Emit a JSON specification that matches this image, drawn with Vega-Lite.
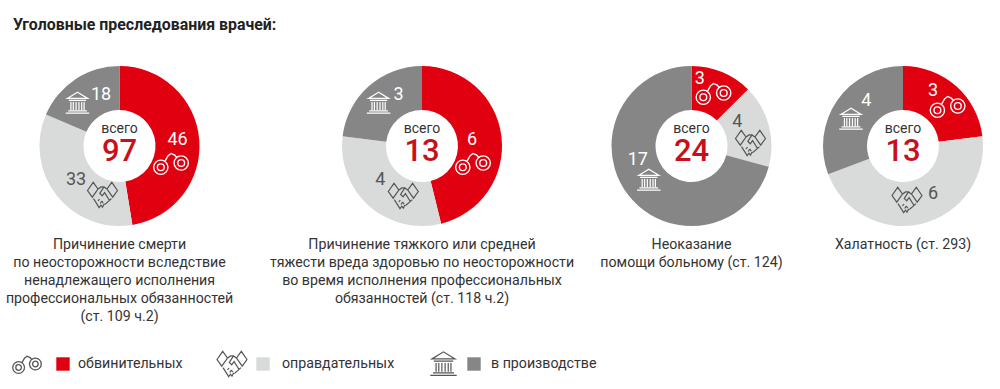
{"$schema":"https://vega.github.io/schema/vega-lite/v6.json","padding":{"left":0,"top":17,"right":0,"bottom":0},"bounds":"flush","background":"white","spacing":290,
"params":[
{"name":"cuffs","value":"M-1.02,.25A.42,.42 0 1 0 -.18,.25A.42,.42 0 1 0 -1.02,.25ZM-.8,.25A.2,.2 0 1 0 -.4,.25A.2,.2 0 1 0 -.8,.25ZM.18,0A.42,.42 0 1 0 1.02,0A.42,.42 0 1 0 .18,0ZM.4,0A.2,.2 0 1 0 .8,0A.2,.2 0 1 0 .4,0ZM-.36,-.1L-.18,-.42L0,-.56L.22,-.46L.36,-.3"},
{"name":"shake","value":"M-1,-.3L-.62,-.84L-.3,-.4L-.68,.14ZM1,-.3L.62,-.84L.3,-.4L.68,.14ZM-.36,-.35L-.1,-.54L.1,-.54L.36,-.35M-.6,.24L-.22,.84L-.1,.68L0,.81L.1,.62L.2,.6L.6,.24M.1,-.54L-.18,-.1L-.02,.05L.14,-.16L.46,.35M-.3,.4L-.2,.27M-.15,.57L-.05,.4M.05,.54L-.05,.4"},
{"name":"bank","value":"M-.85,-.38L0,-.9L.85,-.38ZM-.72,-.22H.72M-.55,-.08V.58M-.35,-.08V.58M-.12,-.08V.58M.12,-.08V.58M.35,-.08V.58M.55,-.08V.58M-.78,.66H.78M-.98,.84H.98"}
],
"title":{"text":"Уголовные преследования врачей:","anchor":"start","frame":"group","dx":13,"offset":23,"font":"Roboto","fontSize":15.9,"fontWeight":"bold","color":"#222"},
"config":{"view":{"stroke":null},"axis":{"disable":true},"font":"Roboto"},
"data":{"values":[
{"case":1,"category":"обвинительных","order":1,"count":46},{"case":1,"category":"оправдательных","order":2,"count":33},{"case":1,"category":"в производстве","order":3,"count":18},
{"case":2,"category":"обвинительных","order":1,"count":6},{"case":2,"category":"оправдательных","order":2,"count":4},{"case":2,"category":"в производстве","order":3,"count":3},
{"case":3,"category":"обвинительных","order":1,"count":3},{"case":3,"category":"оправдательных","order":2,"count":4},{"case":3,"category":"в производстве","order":3,"count":17},
{"case":4,"category":"обвинительных","order":1,"count":3},{"case":4,"category":"оправдательных","order":2,"count":6},{"case":4,"category":"в производстве","order":3,"count":4}
]},
"vconcat":[
{"bounds":"flush","hconcat":[
{"width":239,"height":180,"transform":[{"filter":"datum.case==1"}],
"title":{"text":["Причинение смерти","по неосторожности вследствие","ненадлежащего исполнения","профессиональных обязанностей","(ст. 109 ч.2)"],"orient":"bottom","anchor":"middle","frame":"group","offset":2,"font":"Roboto","fontSize":14.2,"fontWeight":"normal","lineHeight":18,"color":"#333"},
"layer":[
{"mark":{"type":"arc","innerRadius":36,"outerRadius":80},"encoding":{"theta":{"field":"count","type":"quantitative","stack":true},"order":{"field":"order"},"color":{"field":"category","type":"nominal","scale":{"domain":["обвинительных","оправдательных","в производстве"],"range":["#e1000f","#d9dada","#868686"]},"legend":null}}},
{"transform":[{"aggregate":[{"op":"sum","field":"count","as":"total"}]}],"layer":[
{"mark":{"type":"text","text":"всего","fontSize":14,"color":"#333"},"encoding":{"x":{"datum":0,"type":"quantitative","scale":{"domain":[-119.5,119.5],"nice":false}},"y":{"datum":-17,"type":"quantitative","scale":{"domain":[90,-90],"nice":false}}}},
{"mark":{"type":"text","fontSize":31,"fontWeight":500,"color":"#c8101a"},"encoding":{"x":{"datum":0,"type":"quantitative"},"y":{"datum":6,"type":"quantitative"},"text":{"field":"total","type":"quantitative"}}}]},
{"transform":[{"filter":"datum.order==1"}],"layer":[
{"mark":{"type":"text","fontSize":18,"color":"white"},"encoding":{"x":{"datum":58,"type":"quantitative"},"y":{"datum":-6,"type":"quantitative"},"text":{"field":"count","type":"quantitative"}}},
{"mark":{"type":"point","shape":{"expr":"cuffs"},"size":1156,"filled":false,"stroke":"white","strokeWidth":1.4,"opacity":1},"encoding":{"x":{"datum":51.5,"type":"quantitative"},"y":{"datum":17,"type":"quantitative"}}}]},
{"transform":[{"filter":"datum.order==2"}],"layer":[
{"mark":{"type":"text","fontSize":18,"color":"#555"},"encoding":{"x":{"datum":-43.5,"type":"quantitative"},"y":{"datum":34,"type":"quantitative"},"text":{"field":"count","type":"quantitative"}}},
{"mark":{"type":"point","shape":{"expr":"shake"},"size":900,"filled":false,"stroke":"#555","strokeWidth":1.2,"opacity":1},"encoding":{"x":{"datum":-17,"type":"quantitative"},"y":{"datum":49,"type":"quantitative"}}}]},
{"transform":[{"filter":"datum.order==3"}],"layer":[
{"mark":{"type":"text","fontSize":18,"color":"white"},"encoding":{"x":{"datum":-18.5,"type":"quantitative"},"y":{"datum":-51,"type":"quantitative"},"text":{"field":"count","type":"quantitative"}}},
{"mark":{"type":"point","shape":{"expr":"bank"},"size":576,"filled":false,"stroke":"white","strokeWidth":1.2,"opacity":1},"encoding":{"x":{"datum":-42,"type":"quantitative"},"y":{"datum":-43,"type":"quantitative"}}}]}
]},
{"width":310,"height":180,"transform":[{"filter":"datum.case==2"}],
"title":{"text":["Причинение тяжкого или средней","тяжести вреда здоровью по неосторожности","во время исполнения профессиональных","обязанностей (ст. 118 ч.2)"],"orient":"bottom","anchor":"middle","frame":"group","offset":2,"font":"Roboto","fontSize":14.2,"fontWeight":"normal","lineHeight":18,"color":"#333"},
"layer":[
{"mark":{"type":"arc","innerRadius":36,"outerRadius":80},"encoding":{"theta":{"field":"count","type":"quantitative","stack":true},"order":{"field":"order"},"color":{"field":"category","type":"nominal","scale":{"domain":["обвинительных","оправдательных","в производстве"],"range":["#e1000f","#d9dada","#868686"]},"legend":null}}},
{"transform":[{"aggregate":[{"op":"sum","field":"count","as":"total"}]}],"layer":[
{"mark":{"type":"text","text":"всего","fontSize":14,"color":"#333"},"encoding":{"x":{"datum":0,"type":"quantitative","scale":{"domain":[-155,155],"nice":false}},"y":{"datum":-17,"type":"quantitative","scale":{"domain":[90,-90],"nice":false}}}},
{"mark":{"type":"text","fontSize":31,"fontWeight":500,"color":"#c8101a"},"encoding":{"x":{"datum":0,"type":"quantitative"},"y":{"datum":6,"type":"quantitative"},"text":{"field":"total","type":"quantitative"}}}]},
{"transform":[{"filter":"datum.order==1"}],"layer":[
{"mark":{"type":"text","fontSize":18,"color":"white"},"encoding":{"x":{"datum":50,"type":"quantitative"},"y":{"datum":-6,"type":"quantitative"},"text":{"field":"count","type":"quantitative"}}},
{"mark":{"type":"point","shape":{"expr":"cuffs"},"size":1156,"filled":false,"stroke":"white","strokeWidth":1.4,"opacity":1},"encoding":{"x":{"datum":51,"type":"quantitative"},"y":{"datum":17,"type":"quantitative"}}}]},
{"transform":[{"filter":"datum.order==2"}],"layer":[
{"mark":{"type":"text","fontSize":18,"color":"#555"},"encoding":{"x":{"datum":-41.7,"type":"quantitative"},"y":{"datum":34,"type":"quantitative"},"text":{"field":"count","type":"quantitative"}}},
{"mark":{"type":"point","shape":{"expr":"shake"},"size":900,"filled":false,"stroke":"#555","strokeWidth":1.2,"opacity":1},"encoding":{"x":{"datum":-18.7,"type":"quantitative"},"y":{"datum":50,"type":"quantitative"}}}]},
{"transform":[{"filter":"datum.order==3"}],"layer":[
{"mark":{"type":"text","fontSize":18,"color":"white"},"encoding":{"x":{"datum":-23.4,"type":"quantitative"},"y":{"datum":-51,"type":"quantitative"},"text":{"field":"count","type":"quantitative"}}},
{"mark":{"type":"point","shape":{"expr":"bank"},"size":576,"filled":false,"stroke":"white","strokeWidth":1.2,"opacity":1},"encoding":{"x":{"datum":-43.4,"type":"quantitative"},"y":{"datum":-43,"type":"quantitative"}}}]}
]},
{"width":173,"height":180,"transform":[{"filter":"datum.case==3"}],
"title":{"text":["Неоказание","помощи больному (ст. 124)"],"orient":"bottom","anchor":"middle","frame":"group","offset":2,"font":"Roboto","fontSize":14.2,"fontWeight":"normal","lineHeight":18,"color":"#333"},
"layer":[
{"mark":{"type":"arc","innerRadius":36,"outerRadius":80},"encoding":{"theta":{"field":"count","type":"quantitative","stack":true},"order":{"field":"order"},"color":{"field":"category","type":"nominal","scale":{"domain":["обвинительных","оправдательных","в производстве"],"range":["#e1000f","#d9dada","#868686"]},"legend":null}}},
{"transform":[{"aggregate":[{"op":"sum","field":"count","as":"total"}]}],"layer":[
{"mark":{"type":"text","text":"всего","fontSize":14,"color":"#333"},"encoding":{"x":{"datum":0,"type":"quantitative","scale":{"domain":[-86.5,86.5],"nice":false}},"y":{"datum":-17,"type":"quantitative","scale":{"domain":[90,-90],"nice":false}}}},
{"mark":{"type":"text","fontSize":31,"fontWeight":500,"color":"#c8101a"},"encoding":{"x":{"datum":0,"type":"quantitative"},"y":{"datum":6,"type":"quantitative"},"text":{"field":"total","type":"quantitative"}}}]},
{"transform":[{"filter":"datum.order==1"}],"layer":[
{"mark":{"type":"text","fontSize":18,"color":"white"},"encoding":{"x":{"datum":8.3,"type":"quantitative"},"y":{"datum":-67,"type":"quantitative"},"text":{"field":"count","type":"quantitative"}}},
{"mark":{"type":"point","shape":{"expr":"cuffs"},"size":1156,"filled":false,"stroke":"white","strokeWidth":1.4,"opacity":1},"encoding":{"x":{"datum":22,"type":"quantitative"},"y":{"datum":-53,"type":"quantitative"}}}]},
{"transform":[{"filter":"datum.order==2"}],"layer":[
{"mark":{"type":"text","fontSize":18,"color":"#555"},"encoding":{"x":{"datum":45.7,"type":"quantitative"},"y":{"datum":-24,"type":"quantitative"},"text":{"field":"count","type":"quantitative"}}},
{"mark":{"type":"point","shape":{"expr":"shake"},"size":900,"filled":false,"stroke":"#555","strokeWidth":1.2,"opacity":1},"encoding":{"x":{"datum":59,"type":"quantitative"},"y":{"datum":-3,"type":"quantitative"}}}]},
{"transform":[{"filter":"datum.order==3"}],"layer":[
{"mark":{"type":"text","fontSize":18,"color":"white"},"encoding":{"x":{"datum":-53.7,"type":"quantitative"},"y":{"datum":14,"type":"quantitative"},"text":{"field":"count","type":"quantitative"}}},
{"mark":{"type":"point","shape":{"expr":"bank"},"size":576,"filled":false,"stroke":"white","strokeWidth":1.2,"opacity":1},"encoding":{"x":{"datum":-42.7,"type":"quantitative"},"y":{"datum":34,"type":"quantitative"}}}]}
]},
{"width":194,"height":180,"transform":[{"filter":"datum.case==4"}],
"title":{"text":["Халатность (ст. 293)"],"orient":"bottom","anchor":"middle","frame":"group","offset":2,"font":"Roboto","fontSize":14.2,"fontWeight":"normal","lineHeight":18,"color":"#333"},
"layer":[
{"mark":{"type":"arc","innerRadius":36,"outerRadius":80},"encoding":{"theta":{"field":"count","type":"quantitative","stack":true},"order":{"field":"order"},"color":{"field":"category","type":"nominal","scale":{"domain":["обвинительных","оправдательных","в производстве"],"range":["#e1000f","#d9dada","#868686"]},"legend":null}}},
{"transform":[{"aggregate":[{"op":"sum","field":"count","as":"total"}]}],"layer":[
{"mark":{"type":"text","text":"всего","fontSize":14,"color":"#333"},"encoding":{"x":{"datum":0,"type":"quantitative","scale":{"domain":[-97,97],"nice":false}},"y":{"datum":-17,"type":"quantitative","scale":{"domain":[90,-90],"nice":false}}}},
{"mark":{"type":"text","fontSize":31,"fontWeight":500,"color":"#c8101a"},"encoding":{"x":{"datum":0,"type":"quantitative"},"y":{"datum":6,"type":"quantitative"},"text":{"field":"total","type":"quantitative"}}}]},
{"transform":[{"filter":"datum.order==1"}],"layer":[
{"mark":{"type":"text","fontSize":18,"color":"white"},"encoding":{"x":{"datum":30,"type":"quantitative"},"y":{"datum":-55,"type":"quantitative"},"text":{"field":"count","type":"quantitative"}}},
{"mark":{"type":"point","shape":{"expr":"cuffs"},"size":1156,"filled":false,"stroke":"white","strokeWidth":1.4,"opacity":1},"encoding":{"x":{"datum":44.6,"type":"quantitative"},"y":{"datum":-40,"type":"quantitative"}}}]},
{"transform":[{"filter":"datum.order==2"}],"layer":[
{"mark":{"type":"text","fontSize":18,"color":"#555"},"encoding":{"x":{"datum":30,"type":"quantitative"},"y":{"datum":48,"type":"quantitative"},"text":{"field":"count","type":"quantitative"}}},
{"mark":{"type":"point","shape":{"expr":"shake"},"size":900,"filled":false,"stroke":"#555","strokeWidth":1.2,"opacity":1},"encoding":{"x":{"datum":4,"type":"quantitative"},"y":{"datum":54,"type":"quantitative"}}}]},
{"transform":[{"filter":"datum.order==3"}],"layer":[
{"mark":{"type":"text","fontSize":18,"color":"white"},"encoding":{"x":{"datum":-36.7,"type":"quantitative"},"y":{"datum":-45,"type":"quantitative"},"text":{"field":"count","type":"quantitative"}}},
{"mark":{"type":"point","shape":{"expr":"bank"},"size":576,"filled":false,"stroke":"white","strokeWidth":1.2,"opacity":1},"encoding":{"x":{"datum":-52,"type":"quantitative"},"y":{"datum":-27,"type":"quantitative"}}}]}
]}
],"spacing":28},
{"width":1000,"height":36,"transform":[{"filter":"datum.case==1"}],
"layer":[
{"transform":[{"filter":"datum.order==1"}],"layer":[
{"mark":{"type":"point","shape":{"expr":"cuffs"},"size":784,"filled":false,"stroke":"#555","strokeWidth":1.3,"opacity":1},"encoding":{"x":{"datum":27,"type":"quantitative","scale":{"domain":[0,1000],"nice":false}},"y":{"datum":0,"type":"quantitative","scale":{"domain":[18,-18],"nice":false}}}},
{"mark":{"type":"square","size":180,"filled":true,"opacity":1},"encoding":{"x":{"datum":63,"type":"quantitative"},"y":{"datum":0,"type":"quantitative"},"color":{"field":"category","type":"nominal","scale":{"domain":["обвинительных","оправдательных","в производстве"],"range":["#e1000f","#d9dada","#868686"]},"legend":null}}},
{"mark":{"type":"text","align":"left","fontSize":14.2,"color":"#333"},"encoding":{"x":{"datum":78,"type":"quantitative"},"y":{"datum":0,"type":"quantitative"},"text":{"field":"category"}}}]},
{"transform":[{"filter":"datum.order==2"}],"layer":[
{"mark":{"type":"point","shape":{"expr":"shake"},"size":900,"filled":false,"stroke":"#555","strokeWidth":1.2,"opacity":1},"encoding":{"x":{"datum":232,"type":"quantitative"},"y":{"datum":0,"type":"quantitative"}}},
{"mark":{"type":"square","size":180,"filled":true,"opacity":1},"encoding":{"x":{"datum":263,"type":"quantitative"},"y":{"datum":0,"type":"quantitative"},"color":{"field":"category","type":"nominal","legend":null}}},
{"mark":{"type":"text","align":"left","fontSize":14.2,"color":"#333"},"encoding":{"x":{"datum":282,"type":"quantitative"},"y":{"datum":0,"type":"quantitative"},"text":{"field":"category"}}}]},
{"transform":[{"filter":"datum.order==3"}],"layer":[
{"mark":{"type":"point","shape":{"expr":"bank"},"size":729,"filled":false,"stroke":"#555","strokeWidth":1.2,"opacity":1},"encoding":{"x":{"datum":443.5,"type":"quantitative"},"y":{"datum":0,"type":"quantitative"}}},
{"mark":{"type":"square","size":180,"filled":true,"opacity":1},"encoding":{"x":{"datum":474,"type":"quantitative"},"y":{"datum":0,"type":"quantitative"},"color":{"field":"category","type":"nominal","legend":null}}},
{"mark":{"type":"text","align":"left","fontSize":14.2,"color":"#333"},"encoding":{"x":{"datum":491,"type":"quantitative"},"y":{"datum":0,"type":"quantitative"},"text":{"field":"category"}}}]}
]}
]}
